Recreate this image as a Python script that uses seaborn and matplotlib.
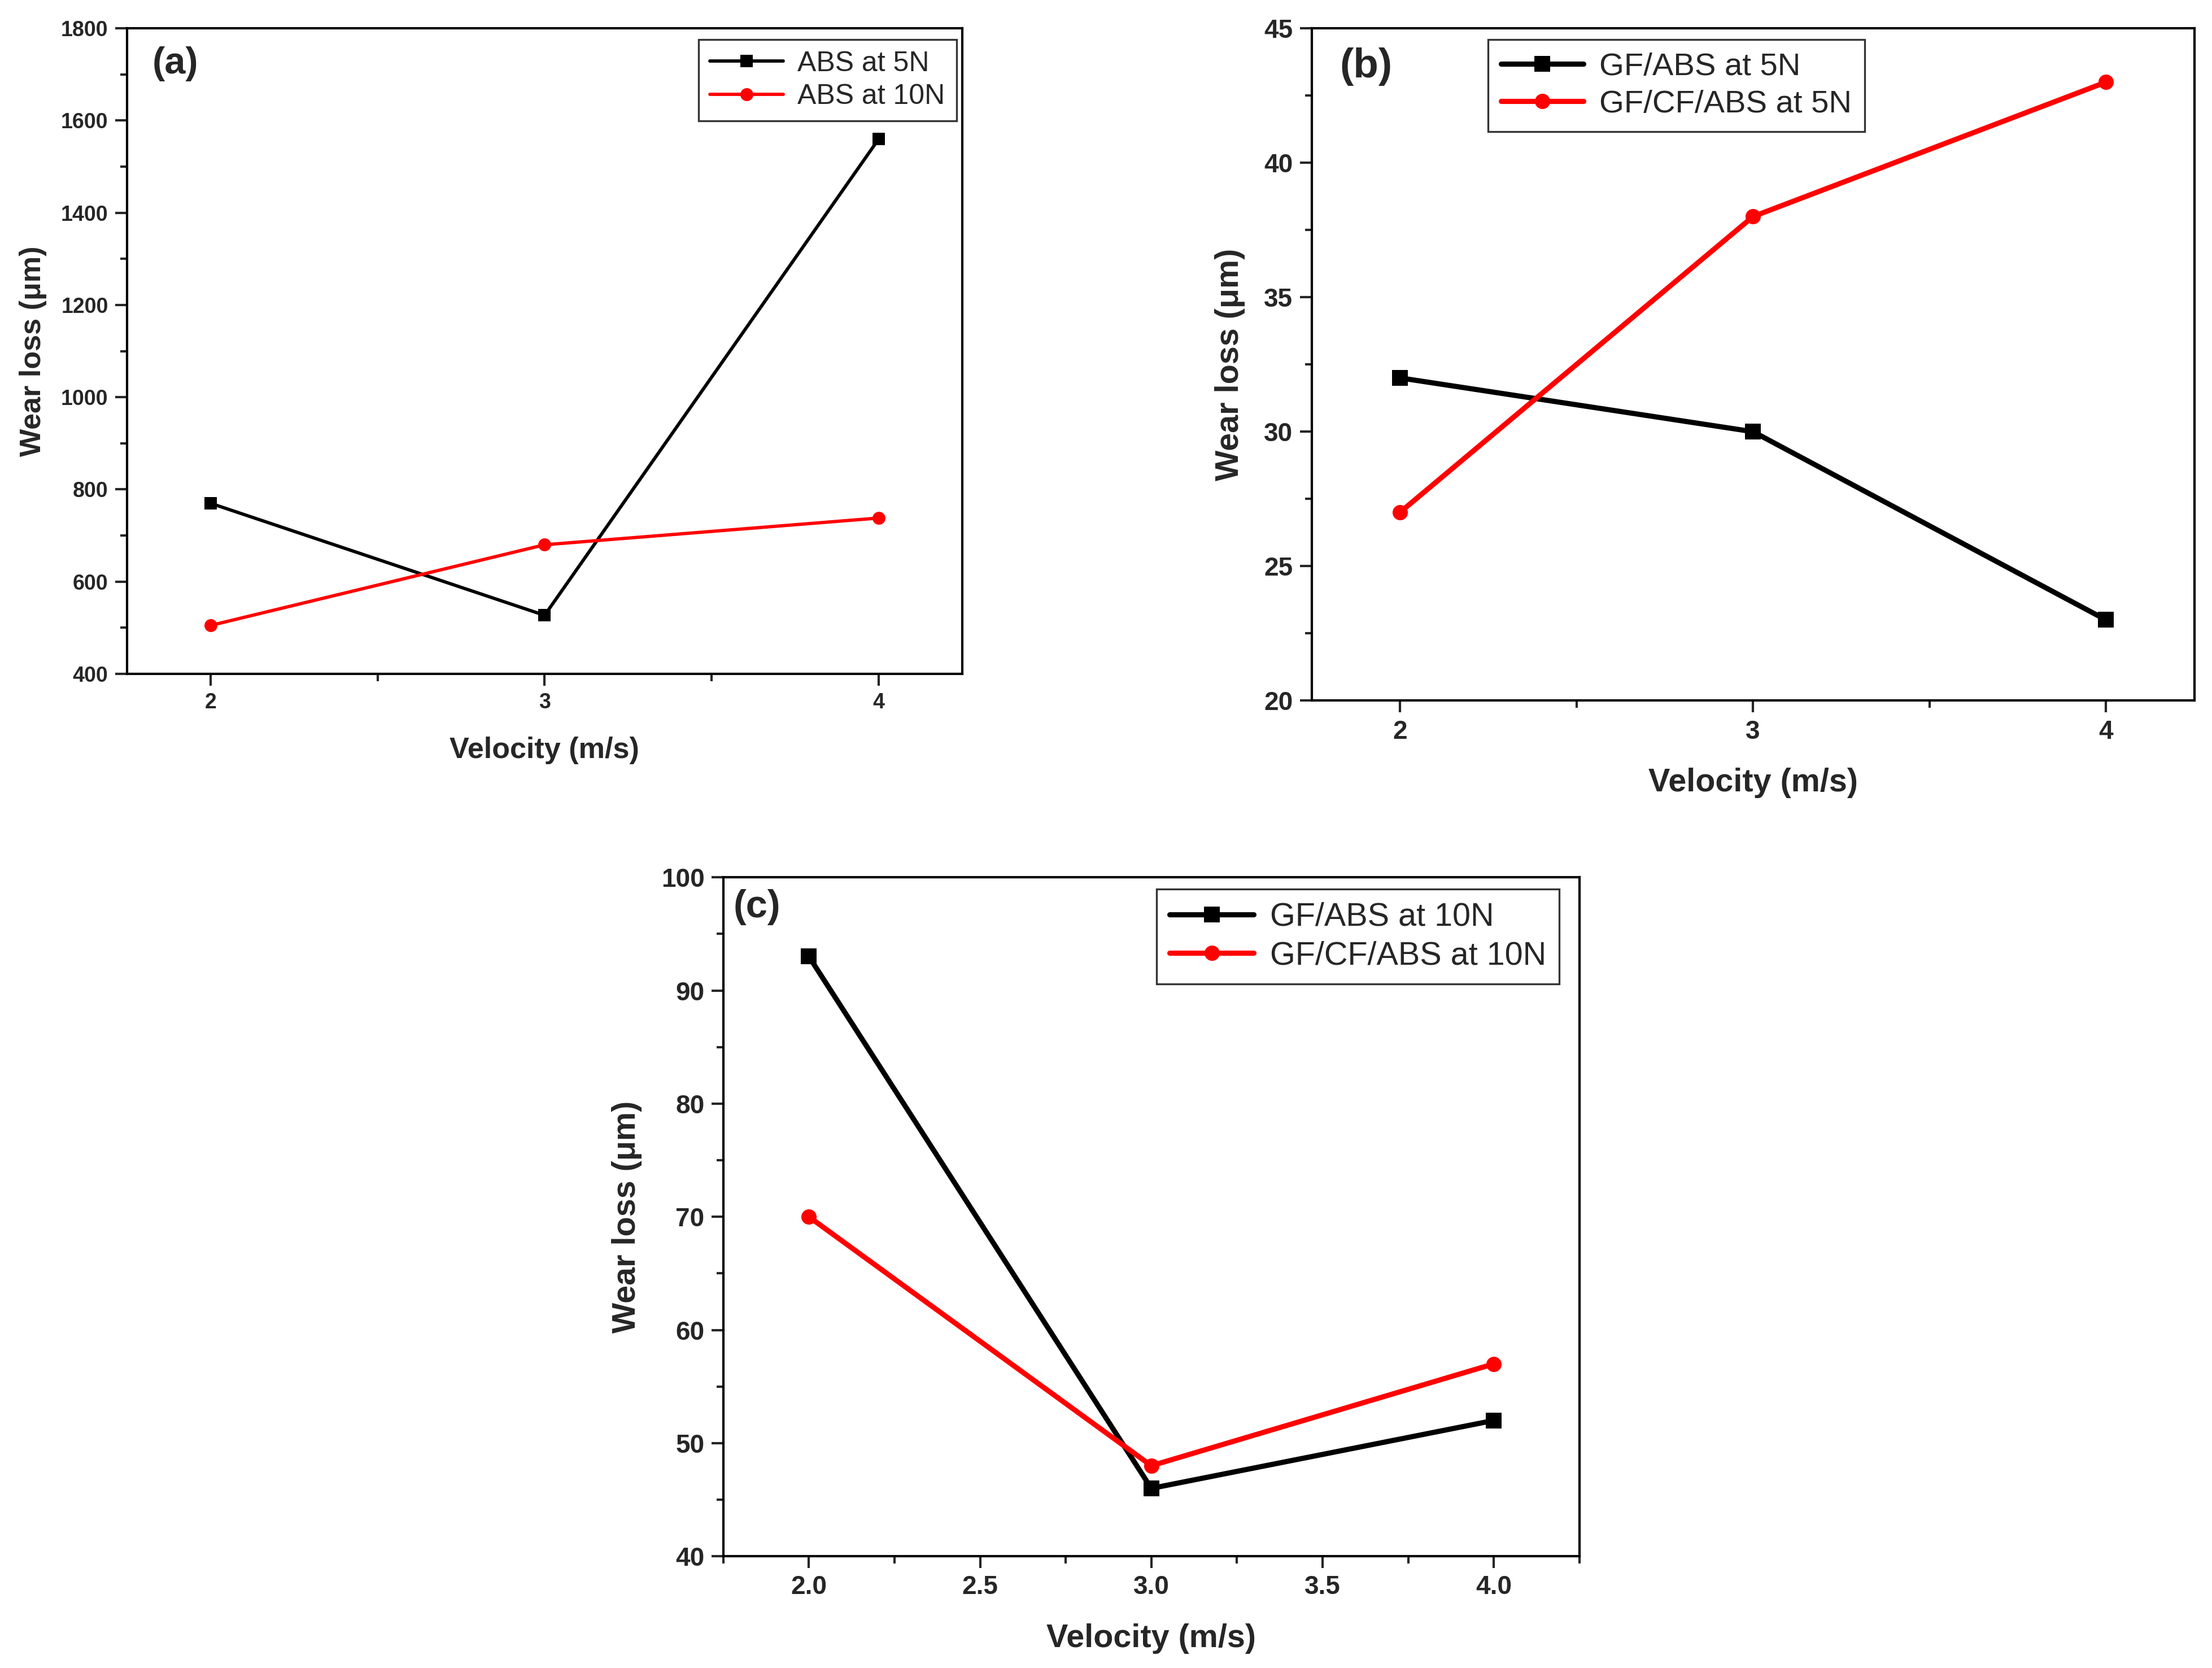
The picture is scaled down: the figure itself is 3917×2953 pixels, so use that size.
import pandas as pd
import seaborn as sns
import matplotlib.pyplot as plt
from matplotlib.ticker import MultipleLocator

# panel (a)
velocity_a = [2, 3, 4]
abs_5n = [770, 527, 1560]
abs_10n = [505, 680, 738]

# panel (b)
velocity_b = [2, 3, 4]
gf_abs_5n = [32, 30, 23]
gf_cf_abs_5n = [27, 38, 43]

# panel (c)
velocity_c = [2.0, 3.0, 4.0]
gf_abs_10n = [93, 46, 52]
gf_cf_abs_10n = [70, 48, 57]

sns.set_style("ticks")
plt.rcParams["font.family"] = ["Liberation Sans", "DejaVu Sans"]


def long_frame(x, series):
    rows = []
    for name, values in series.items():
        for xv, yv in zip(x, values):
            rows.append({"Velocity": xv, "Wear": yv, "Series": name})
    return pd.DataFrame(rows)


def draw_panel(ax, df, names, cfg):
    sns.lineplot(
        data=df,
        x="Velocity",
        y="Wear",
        hue="Series",
        style="Series",
        hue_order=names,
        style_order=names,
        palette={names[0]: "black", names[1]: "#ff0000"},
        markers={names[0]: "s", names[1]: "o"},
        dashes=False,
        linewidth=cfg["lw"],
        markersize=cfg["ms"],
        markeredgewidth=0,
        ax=ax,
    )
    ax.set_xlim(1.75, 4.25)
    ax.set_ylim(*cfg["ylim"])
    ax.xaxis.set_major_locator(MultipleLocator(cfg["xmajor"]))
    ax.xaxis.set_minor_locator(MultipleLocator(cfg["xmajor"] / 2))
    ax.yaxis.set_major_locator(MultipleLocator(cfg["ymajor"]))
    ax.yaxis.set_minor_locator(MultipleLocator(cfg["ymajor"] / 2))
    ax.xaxis.set_major_formatter(plt.FuncFormatter(cfg["fmt"]))
    ax.tick_params(axis="both", which="major", direction="out", length=5,
                   width=1, labelsize=cfg["tick"], pad=3)
    ax.tick_params(axis="both", which="minor", direction="out", length=3, width=1)
    for lbl in ax.get_xticklabels() + ax.get_yticklabels():
        lbl.set_fontweight("bold")
    for sp in ax.spines.values():
        sp.set_visible(True)
        sp.set_linewidth(1.0)
        sp.set_color("black")
    ax.set_xlabel("Velocity (m/s)", fontsize=cfg["label"], fontweight="bold",
                  labelpad=cfg["lpad"])
    ax.set_ylabel("Wear loss (μm)", fontsize=cfg["label"], fontweight="bold",
                  labelpad=cfg["ypad"])
    handles, labels = ax.get_legend_handles_labels()
    leg = ax.legend(
        handles, labels,
        loc=cfg["legloc"],
        bbox_to_anchor=cfg["legpos"],
        fontsize=cfg["leg"],
        frameon=True,
        fancybox=False,
        edgecolor="black",
        handlelength=2.6,
        handletextpad=0.5,
        borderpad=0.4,
        labelspacing=0.25,
        borderaxespad=0,
    )
    leg.get_frame().set_linewidth(0.8)
    ax.text(cfg["tagpos"][0], cfg["tagpos"][1], cfg["tag"], transform=ax.transAxes,
            fontsize=cfg["tagsize"], fontweight="bold", va="center", ha="left")


fig = plt.figure(figsize=(3917 / 300, 2953 / 300), dpi=300)
ax_a = fig.add_axes([0.0574, 0.596, 0.3776, 0.387])
ax_b = fig.add_axes([0.593, 0.580, 0.399, 0.403])
ax_c = fig.add_axes([0.327, 0.067, 0.387, 0.407])

names_a = ["ABS at 5N", "ABS at 10N"]
df_a = long_frame(velocity_a, {names_a[0]: abs_5n, names_a[1]: abs_10n})
draw_panel(ax_a, df_a, names_a, {
    "lw": 1.4, "ms": 5.5, "ylim": (400, 1800), "xmajor": 1, "ymajor": 200,
    "tick": 9, "label": 12.5, "lpad": 10, "ypad": 6, "leg": 12,
    "legloc": "upper right", "legpos": (0.993, 0.983),
    "tag": "(a)", "tagpos": (0.03, 0.945), "tagsize": 16,
    "fmt": lambda v, p: f"{v:.0f}",
})

names_b = ["GF/ABS at 5N", "GF/CF/ABS at 5N"]
df_b = long_frame(velocity_b, {names_b[0]: gf_abs_5n, names_b[1]: gf_cf_abs_5n})
draw_panel(ax_b, df_b, names_b, {
    "lw": 2.2, "ms": 6.5, "ylim": (20, 45), "xmajor": 1, "ymajor": 5,
    "tick": 11, "label": 13.8, "lpad": 10, "ypad": 8, "leg": 13.5,
    "legloc": "upper left", "legpos": (0.2, 0.983),
    "tag": "(b)", "tagpos": (0.032, 0.943), "tagsize": 17.5,
    "fmt": lambda v, p: f"{v:.0f}",
})

names_c = ["GF/ABS at 10N", "GF/CF/ABS at 10N"]
df_c = long_frame(velocity_c, {names_c[0]: gf_abs_10n, names_c[1]: gf_cf_abs_10n})
draw_panel(ax_c, df_c, names_c, {
    "lw": 2.2, "ms": 6.5, "ylim": (40, 100), "xmajor": 0.5, "ymajor": 10,
    "tick": 11, "label": 13.8, "lpad": 10, "ypad": 8, "leg": 13.8,
    "legloc": "upper left", "legpos": (0.506, 0.983),
    "tag": "(c)", "tagpos": (0.012, 0.956), "tagsize": 16.5,
    "fmt": lambda v, p: f"{v:.1f}",
})

fig.savefig("out.png", dpi=300, facecolor="white")
plt.close(fig)
